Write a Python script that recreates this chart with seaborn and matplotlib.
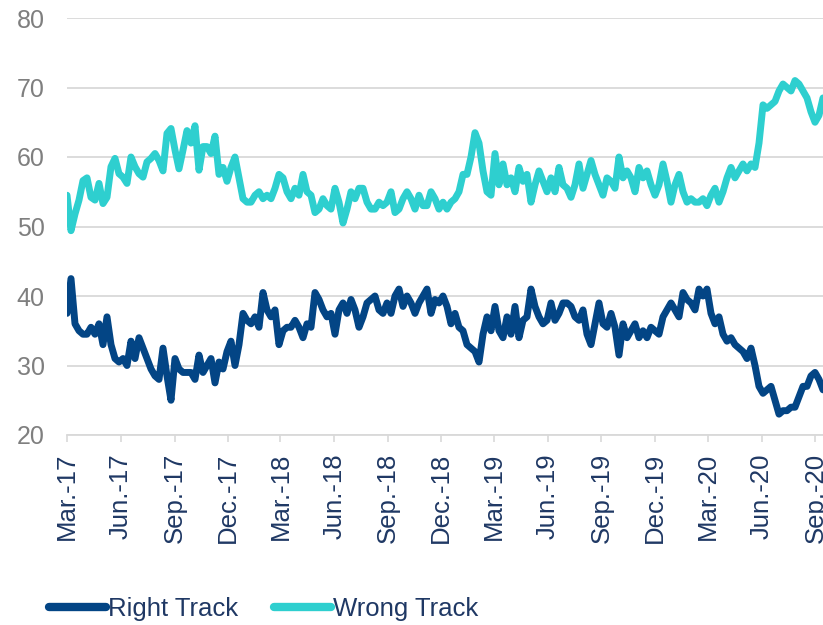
import pandas as pd
import matplotlib
matplotlib.use("Agg")
import matplotlib.pyplot as plt
import matplotlib.ticker as mticker
import matplotlib.dates as mdates
import seaborn as sns

# Serie aproximada (una observacion cada ~7 dias)
start_date = "2017-03-01"
end_date = "2020-09-14"

right_track = [
    37.5, 42.5, 36, 35, 34.5, 34.5, 35.5, 34.5, 36, 33, 37, 33, 31, 30.5, 31, 30,
    33.5, 31, 34, 32.5, 31, 29.5, 28.5, 28, 32.5, 28.5, 25, 31, 29.5, 29, 29,
    29, 28, 31.5, 29, 30, 31, 27.5, 30.5, 29.5, 32, 33.5, 30, 33, 37.5, 36.5, 36,
    37, 35.5, 40.5, 38, 37, 38, 33, 35, 35.5, 35.5, 36.5, 35.5, 34, 36, 35.5, 40.5,
    39.5, 38, 37, 37.5, 34.5, 38, 39, 37.5, 39.5, 38, 35.5, 37, 39, 39.5, 40, 38,
    37.5, 39, 37.5, 40, 41, 38.5, 40, 39, 37.5, 39, 40, 41, 37.5, 39.5, 39,
    40, 38.5, 36, 37.5, 35.5, 35, 33, 32.5, 32, 30.5, 34.5, 37, 35, 38.5, 35, 34,
    37, 34.5, 38.5, 34, 36.5, 37, 41, 38.5, 37, 36, 36.5, 39, 36.5, 37.5, 39,
    39, 38.5, 37, 36.5, 38, 34.5, 33, 36, 39, 36, 35.5, 37.5, 35.5, 31.5, 36, 34,
    35, 36, 34, 35, 34, 35.5, 35, 34.5, 37, 38, 39, 38, 37, 40.5, 39.5,
    39, 38, 41, 40, 41, 37.5, 36, 37, 34.5, 33.5, 34, 33, 32.5, 32, 31, 32.5, 30,
    27, 26, 26.5, 27, 25, 23, 23.5, 23.5, 24, 24, 25.5, 27, 27, 28.5, 29, 28, 26.5,
]

wrong_track = [
    54.5, 49.4, 51.8, 53.8, 56.6, 57, 54.2, 53.8, 56.2, 53.3, 54.2, 58.6, 59.8, 57.6, 57.1, 56.2,
    60, 58.6, 57.6, 57.1, 59.3, 59.8, 60.5, 59.5, 58, 63.4, 64.1, 61, 58.3, 61, 63.8,
    62, 64.5, 58.1, 61.5, 61.5, 60.5, 63, 57.5, 58.5, 56.5, 58.5, 60, 57, 54, 53.5, 53.5,
    54.5, 55, 54, 54.5, 54, 55.5, 57.5, 57, 55, 54, 55.5, 54.5, 57.5, 55, 54.5, 52,
    52.5, 54, 53, 52.5, 55.5, 53.5, 50.5, 52.5, 55, 54, 55.5, 55.5, 53.5, 52.5, 52.5, 53.5,
    53, 53.5, 55, 52, 52.5, 54, 55, 54, 52.5, 54.5, 53, 53, 55, 54, 52.5,
    53.5, 52.5, 53.5, 54, 55, 57.5, 57.5, 60, 63.5, 62, 58, 55, 54.5, 60.5, 56, 59,
    56, 57, 55, 58.5, 56.5, 57.5, 53.5, 56, 58, 56.5, 55, 57, 55, 58.5, 56,
    55.5, 54.2, 56, 59, 55.5, 57.5, 59.5, 57.5, 56, 54.5, 57, 56.5, 55.5, 60, 57, 58,
    57, 55, 58.5, 57, 58, 56, 54.5, 56, 59, 56.5, 53.5, 56, 57.5, 55, 53.5,
    54, 53.5, 53.5, 54, 53, 54.5, 55.5, 53.5, 55, 57, 58.5, 57, 58, 59, 58, 59, 58.5,
    62, 67.5, 67, 67.5, 68, 69.5, 70.5, 70, 69.5, 71, 70.5, 69.5, 68.5, 66.5, 65, 66, 68.5,
]

tick_labels = [
    "Mar.-17", "Jun.-17", "Sep.-17", "Dec.-17",
    "Mar.-18", "Jun.-18", "Sep.-18", "Dec.-18",
    "Mar.-19", "Jun.-19", "Sep.-19", "Dec.-19",
    "Mar.-20", "Jun.-20", "Sep.-20",
]

dates = pd.date_range(start_date, end_date, periods=len(right_track))
df = pd.DataFrame({
    "fecha": list(dates) * 2,
    "valor": right_track + wrong_track,
    "serie": ["Right Track"] * len(right_track) + ["Wrong Track"] * len(wrong_track),
})

sns.set_theme(style="white")
plt.rcParams["font.family"] = ["Liberation Sans", "DejaVu Sans"]

colores = {"Right Track": "#034585", "Wrong Track": "#2ECFCF"}
gris = "#D9D9D9"
azul_texto = "#1F3864"

fig = plt.figure(figsize=(8.23, 6.25), dpi=100)
ax = fig.add_axes([67 / 823, 1 - 435 / 625, (823 - 67) / 823, (435 - 18) / 625])

sns.lineplot(data=df, x="fecha", y="valor", hue="serie", palette=colores,
             linewidth=5.0, ax=ax, legend=False)
for line in ax.lines:
    line.set_solid_joinstyle("round")
    line.set_solid_capstyle("round")

ax.set_xlim(dates[0], dates[-1])
ax.set_ylim(20, 80)
ax.yaxis.set_major_locator(mticker.MultipleLocator(10))
ax.grid(axis="y", color=gris, linewidth=1.3)
ax.grid(axis="x", visible=False)
ax.set_axisbelow(True)

# el grafico original corta la ultima etiqueta en el borde derecho
tick_dates = pd.date_range("2017-03-01", "2020-09-01", freq="QS-MAR")
ax.set_xticks(mdates.date2num(tick_dates))
ax.set_xticklabels(tick_labels, rotation=90, fontsize=18.5, color=azul_texto)
ax.tick_params(axis="x", length=5, width=1.2, color=gris, pad=8, bottom=True)
ax.tick_params(axis="y", length=0, pad=16, labelsize=18, labelcolor="#7F7F7F")

for lado in ["left", "right", "top"]:
    ax.spines[lado].set_visible(False)
ax.spines["bottom"].set_color(gris)
ax.spines["bottom"].set_linewidth(1.3)
ax.set_xlabel("")
ax.set_ylabel("")

handles = [plt.Line2D([], [], color=colores[s], linewidth=6, solid_capstyle="round")
           for s in colores]
fig.legend(handles, list(colores), loc="center left", bbox_to_anchor=(49 / 823, 1 - 609 / 625),
           ncol=2, frameon=False, fontsize=18.5, labelcolor=azul_texto,
           handlelength=2.2, handletextpad=0.1, columnspacing=1.4,
           borderpad=0, borderaxespad=0)

fig.savefig("out.png", dpi=100)
